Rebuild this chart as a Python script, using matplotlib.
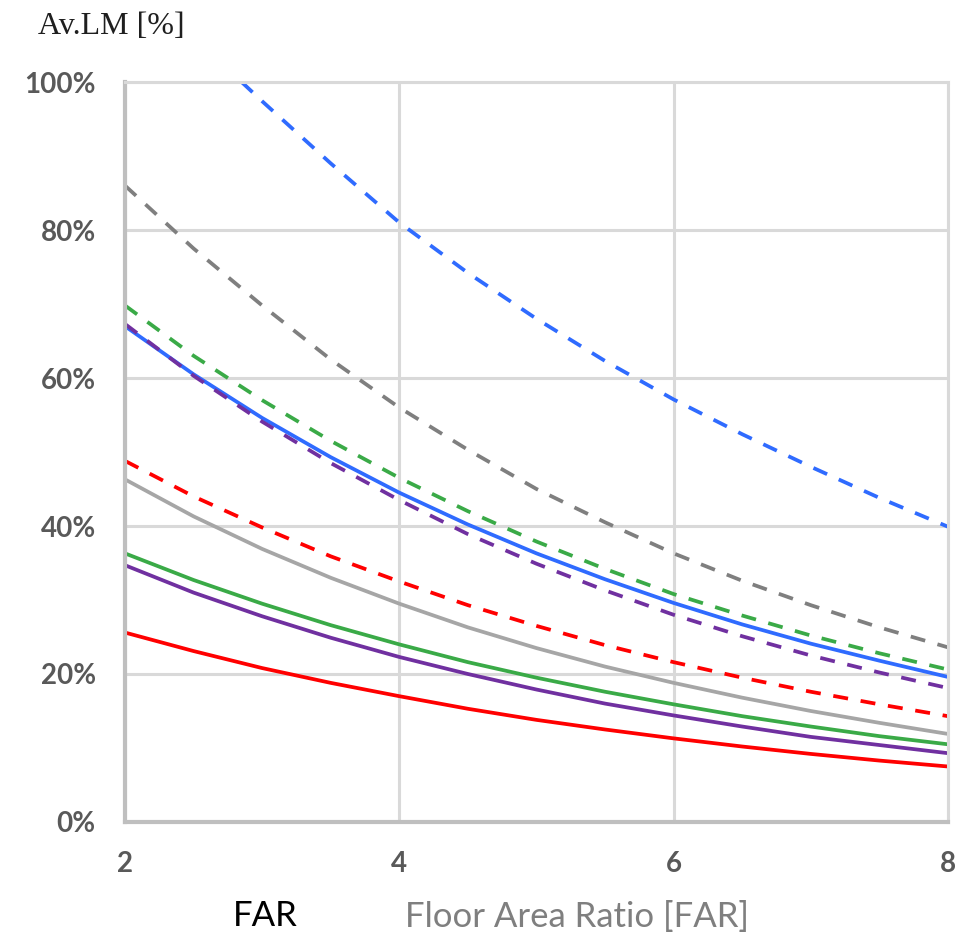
import matplotlib
matplotlib.use("Agg")
import matplotlib.pyplot as plt
from matplotlib.ticker import FuncFormatter

# ---- data ----
far = [2.0, 2.5, 3.0, 3.5, 4.0, 4.5, 5.0, 5.5, 6.0, 6.5, 7.0, 7.5, 8.0]
far_blue_dashed = [2.85, 3.0, 3.5, 4.0, 4.5, 5.0, 5.5, 6.0, 6.5, 7.0, 7.5, 8.0]

blue_dashed = [100.0, 97.4, 89.0, 81.0, 74.2, 68.0, 62.3, 57.1, 52.4, 48.0, 43.8, 39.9]
gray_dashed = [86.0, 77.5, 69.8, 62.5, 56.0, 50.3, 45.0, 40.5, 36.3, 32.6, 29.3, 26.3, 23.6]
green_dashed = [69.8, 63.0, 57.0, 51.5, 46.5, 42.0, 37.9, 34.2, 30.8, 27.9, 25.2, 22.8, 20.6]
blue_solid = [67.0, 60.5, 54.6, 49.3, 44.5, 40.2, 36.3, 32.8, 29.6, 26.7, 24.1, 21.8, 19.6]
purple_dashed = [67.3, 60.3, 54.1, 48.5, 43.5, 38.9, 34.9, 31.3, 28.0, 25.1, 22.5, 20.2, 18.1]
red_dashed = [48.8, 44.0, 39.8, 35.9, 32.5, 29.3, 26.5, 23.9, 21.6, 19.5, 17.6, 15.9, 14.3]
gray_solid = [46.3, 41.3, 36.9, 33.0, 29.5, 26.3, 23.5, 21.0, 18.8, 16.8, 15.0, 13.4, 11.9]
green_solid = [36.3, 32.7, 29.5, 26.6, 24.0, 21.6, 19.5, 17.6, 15.9, 14.3, 12.9, 11.6, 10.5]
purple_solid = [34.7, 31.0, 27.8, 24.9, 22.3, 20.0, 17.9, 16.0, 14.4, 12.9, 11.5, 10.4, 9.3]
red_solid = [25.6, 23.1, 20.8, 18.8, 17.0, 15.3, 13.8, 12.5, 11.3, 10.2, 9.2, 8.3, 7.5]

x_ticks = [2, 4, 6, 8]
y_ticks = [0, 20, 40, 60, 80, 100]

BLUE = "#2F6BFF"
DGRAY = "#7F7F7F"
LGRAY = "#A6A6A6"
GREEN = "#3AAA47"
PURPLE = "#7030A0"
RED = "#FF0000"

plt.rcParams['font.family'] = ['Lato', 'DejaVu Sans']

fig = plt.figure(figsize=(9.55, 9.39), dpi=100)
ax = fig.add_axes([125/955, 1-822/939, (948-125)/955, (822-82)/939])

lw = 2.7
dash = (4.0, 3.4)

# solid lines
ax.plot(far, gray_solid, color=LGRAY, lw=lw, solid_capstyle='butt')
ax.plot(far, green_solid, color=GREEN, lw=lw, solid_capstyle='butt')
ax.plot(far, purple_solid, color=PURPLE, lw=lw, solid_capstyle='butt')
ax.plot(far, red_solid, color=RED, lw=lw, solid_capstyle='butt')
ax.plot(far, blue_solid, color=BLUE, lw=lw, solid_capstyle='butt')
# dashed lines
ax.plot(far_blue_dashed, blue_dashed, color=BLUE, lw=lw, dashes=dash)
ax.plot(far, gray_dashed, color=DGRAY, lw=lw, dashes=dash)
ax.plot(far, green_dashed, color=GREEN, lw=lw, dashes=dash)
ax.plot(far, purple_dashed, color=PURPLE, lw=lw, dashes=dash)
ax.plot(far, red_dashed, color=RED, lw=lw, dashes=dash)

ax.set_xlim(2, 8)
ax.set_ylim(0, 100)
ax.set_xticks(x_ticks)
ax.set_yticks(y_ticks)
ax.yaxis.set_major_formatter(FuncFormatter(lambda v, p: f"{int(v)}%"))
ax.grid(True, color="#D9D9D9", lw=2.2)
ax.set_axisbelow(True)
ax.tick_params(length=0, labelsize=20, labelcolor="#595959")
ax.tick_params(axis='y', pad=21)
ax.tick_params(axis='x', pad=21)
for lab in ax.get_xticklabels() + ax.get_yticklabels():
    lab.set_fontweight('bold')

for side in ['top', 'right']:
    ax.spines[side].set_color("#D9D9D9")
    ax.spines[side].set_linewidth(2.2)
for side in ['left', 'bottom']:
    ax.spines[side].set_color("#BFBFBF")
    ax.spines[side].set_linewidth(3)

fig.text(38/955, 1-26/939, "Av.LM [%]", family=['Liberation Serif'], fontsize=23,
         color="#1F1F1F", va='center', ha='left')
fig.text(233/955, 1-916/939, "FAR", fontsize=25, color="#000000", va='center', ha='left')
fig.text(405/955, 1-917/939, "Floor Area Ratio [FAR]", fontsize=25, color="#7F7F7F",
         va='center', ha='left')

fig.savefig("out.png", dpi=100)
